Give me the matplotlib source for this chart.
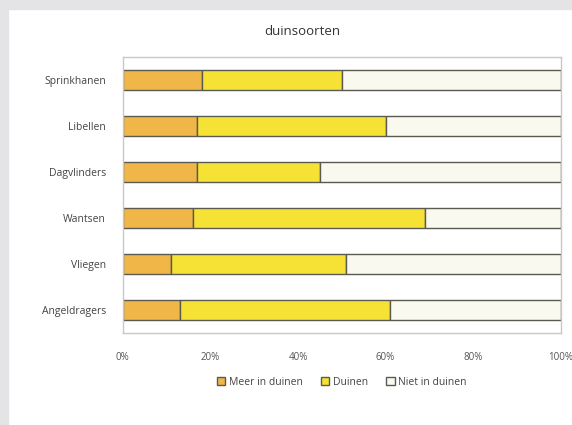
import matplotlib.pyplot as plt
import numpy as np
from matplotlib.patches import Rectangle

# values (percent of species)
soorten = ['Sprinkhanen', 'Libellen', 'Dagvlinders', 'Wantsen', 'Vliegen', 'Angeldragers']
meer_in_duinen = [18, 17, 17, 16, 11, 13]
duinen = [32, 43, 28, 53, 40, 48]
niet_in_duinen = [50, 40, 55, 31, 49, 39]

series = [('Meer in duinen', meer_in_duinen, '#f0b648'),
          ('Duinen', duinen, '#f6e235'),
          ('Niet in duinen', niet_in_duinen, '#f9f9f0')]

plt.rcParams['font.family'] = ['Open Sans', 'DejaVu Sans']

fig = plt.figure(figsize=(5.72, 4.25), dpi=100)
fig.patch.set_facecolor('white')
# greyish scan edge at top and left
fig.patches.append(Rectangle((0, 0.98), 1, 0.02, transform=fig.transFigure,
                             color='#e4e3e6', zorder=0))
fig.patches.append(Rectangle((0, 0), 0.014, 1, transform=fig.transFigure,
                             color='#e4e3e6', zorder=0))

ax = fig.add_axes([0.2145, 0.2165, 0.766, 0.649])

y = np.arange(len(soorten))
left = np.zeros(len(soorten))
for naam, vals, kleur in series:
    ax.barh(y, vals, left=left, height=0.43, color=kleur, edgecolor='#5a5a50',
            linewidth=1.0, label=naam)
    left += np.array(vals)

ax.set_xlim(0, 100)
ax.set_ylim(len(soorten) - 0.5, -0.5)
ax.set_yticks(y)
ax.set_yticklabels(soorten, fontsize=7.5, color='#444444')
ax.set_xticks([0, 20, 40, 60, 80, 100])
ax.set_xticklabels(['0%', '20%', '40%', '60%', '80%', '100%'], fontsize=7, color='#555555')
ax.tick_params(axis='y', length=0, pad=12)
ax.tick_params(axis='x', length=0, pad=14)
for s in ax.spines.values():
    s.set_color('#c8c8c8')
    s.set_linewidth(1.0)

fig.text(0.528, 0.925, 'duinsoorten', ha='center', va='center', fontsize=9.5, color='#333333')

ax.legend(loc='upper center', bbox_to_anchor=(0.5, -0.125), ncol=3, frameon=False,
          fontsize=7.5, handlelength=0.8, handleheight=0.8, handletextpad=0.3,
          columnspacing=1.8, labelcolor='#444444')

plt.savefig('out.png', dpi=100, facecolor=fig.get_facecolor())
